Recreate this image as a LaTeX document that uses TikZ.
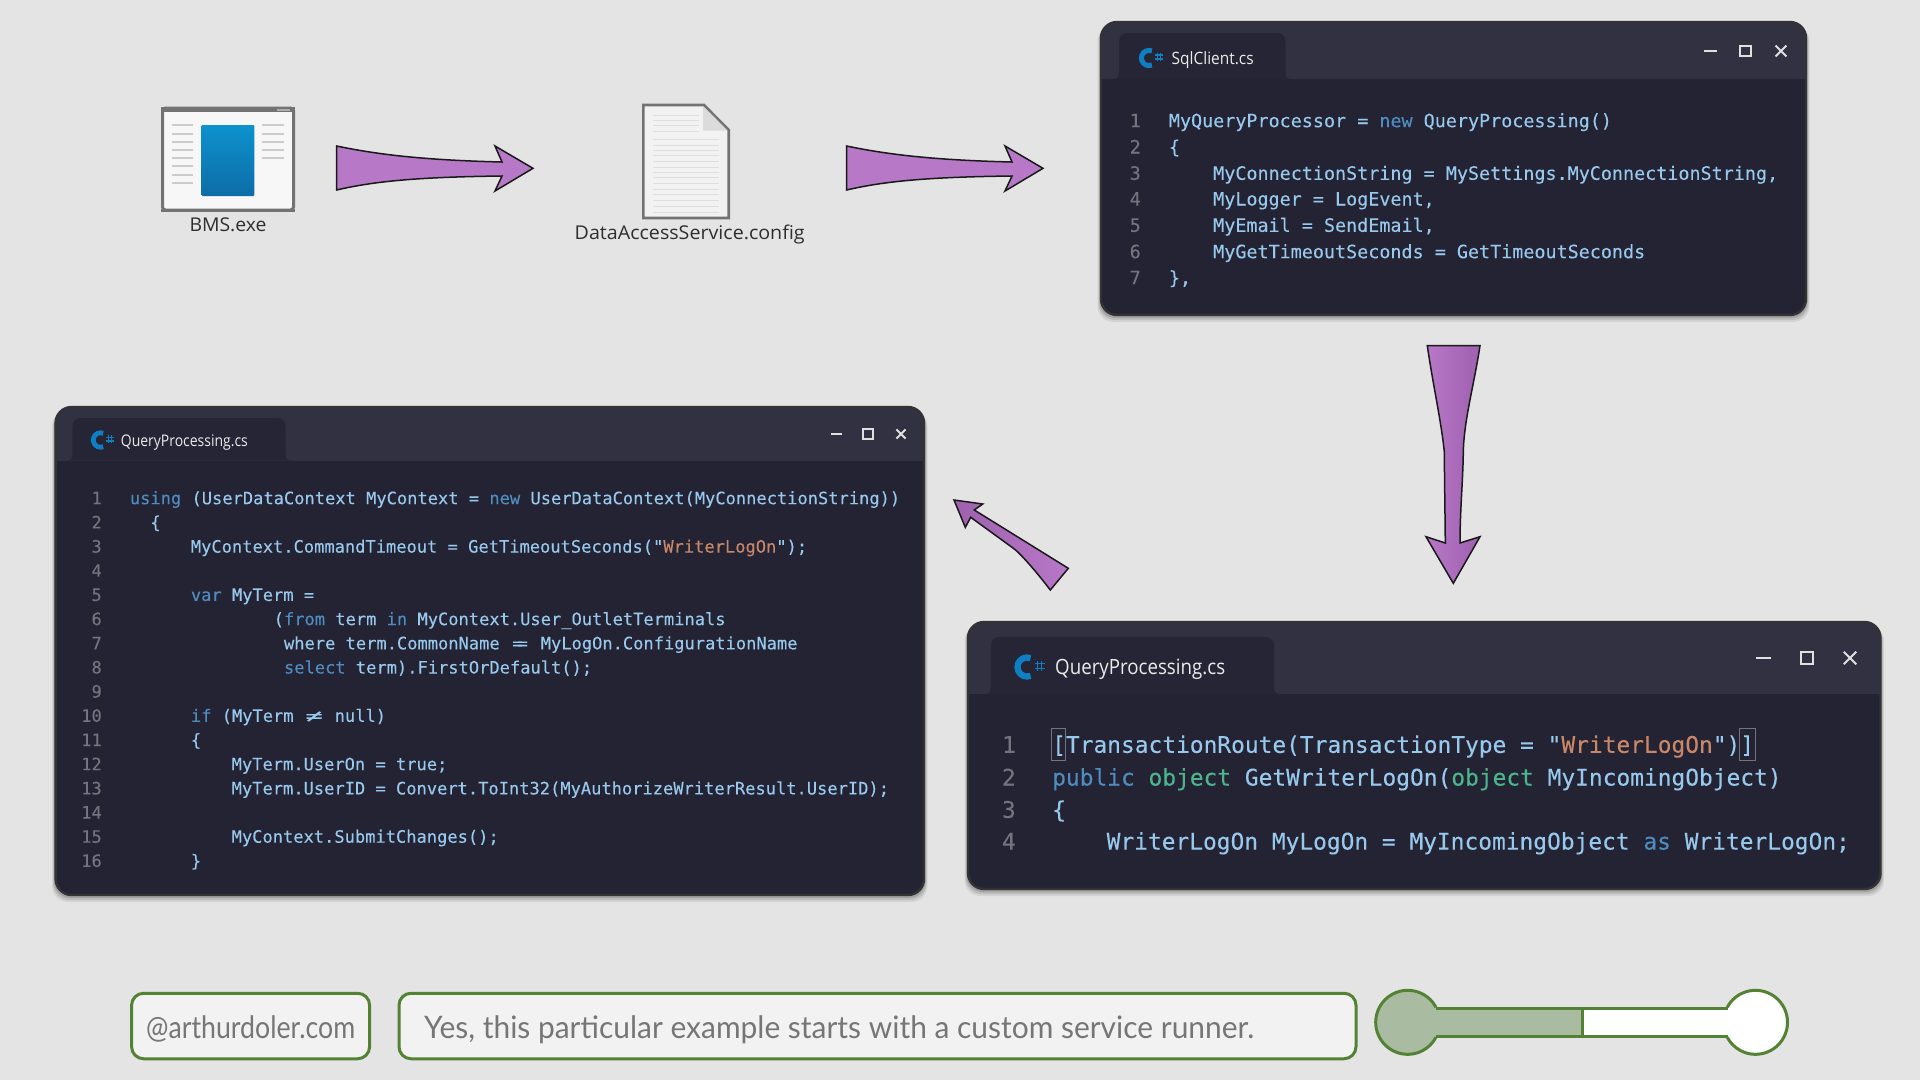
\documentclass[tikz,border=0pt]{standalone}
\usepackage{fontspec}
\usepackage{graphicx}
\newfontfamily\codef[FakeBold=0.12]{DejaVu Sans Mono}
\newfontfamily\uif{Open Sans}
\newfontfamily\gillf{Lato}
\definecolor{bgc}{HTML}{E4E4E4}
\definecolor{bodyc}{HTML}{232333}
\definecolor{barc}{HTML}{323141}
\definecolor{tabc}{HTML}{252535}
\definecolor{codec}{HTML}{98C8EC}
\definecolor{kwc}{HTML}{4F8CC0}
\definecolor{stc}{HTML}{C9876A}
\definecolor{tyc}{HTML}{4CB58E}
\definecolor{numc}{HTML}{74747E}
\definecolor{csc}{HTML}{0F7FC4}
\definecolor{grn}{HTML}{548235}
\definecolor{grey}{HTML}{767676}
\definecolor{sage}{HTML}{A9BBA0}
\definecolor{arrowa}{HTML}{B678C7}
\definecolor{arrowb}{HTML}{A060B0}
\newcommand\kw[1]{\textcolor{kwc}{#1}}
\newcommand\st[1]{\textcolor{stc}{#1}}
\newcommand\ty[1]{\textcolor{tyc}{#1}}
\newcommand\eqeq{\kern.15em=\kern-.3em=\kern.15em}
\newcommand\fitw[2]{\resizebox{#1}{\height}{#2}}
\newcommand\csicon[3]{%
  \begin{scope}[shift={(#1,#2)},scale=#3]
    \draw[csc,line width=#3*5pt] (0,0) ++(68:7.6pt) arc[start angle=68,end angle=292,radius=7.6pt];
    \draw[csc,line width=#3*1.2pt] (8.5,-5) -- (8.5,3) (11.5,-5) -- (11.5,3) (6,-3) -- (14,-3) (6,1) -- (14,1);
  \end{scope}}
\newcommand\wctrl[5]{%
  \draw[ctrl] (#1-#5/2,#4) -- (#1+#5/2,#4);
  \draw[ctrl] (#2-#5/2.4,#4-#5/2.4) rectangle (#2+#5/2.4,#4+#5/2.4);
  \draw[ctrl] (#3-#5/2.4,#4-#5/2.4) -- (#3+#5/2.4,#4+#5/2.4) (#3-#5/2.4,#4+#5/2.4) -- (#3+#5/2.4,#4-#5/2.4);}
% name, x1,y1,x2,y2, bar bottom, tab x1, tab x2, tab top
\newcommand\codewin[9]{%
  \foreach \s/\o in {7/.07,5/.10,3/.14}{
    \fill[black,opacity=\o,rounded corners=16pt] (#2-\s/2,#3+3) rectangle (#4+\s/2,#5+\s);}
  \node[winbody,minimum width=#4pt-#2pt,minimum height=#5pt-#3pt] (#1) at ({(#2+#4)/2},{(#3+#5)/2}) {};
  \begin{scope}
    \clip[rounded corners=16pt] (#1.south west) rectangle (#1.north east);
    \fill[barc] (#2,#3) rectangle (#4,#6);
    \fill[tabc] (#7-6,#6) .. controls (#7,#6) and (#7,#6-4) .. (#7,#6-8) -- (#7,#9+9) .. controls (#7,#9+3) and (#7+3,#9) .. (#7+9,#9) -- (#8-9,#9) .. controls (#8-3,#9) and (#8,#9+3) .. (#8,#9+9) -- (#8,#6-8) .. controls (#8,#6-4) and (#8,#6) .. (#8+6,#6) -- cycle;
  \end{scope}
  \draw[winedge] (#1.south west) rectangle (#1.north east);}
\tikzset{
  x=1pt,y=-1pt,
  winbody/.style={fill=bodyc,rounded corners=16pt,inner sep=0pt,outer sep=0pt},
  winedge/.style={draw=black!80,line width=2.4pt,rounded corners=16pt},
  ctrl/.style={draw=white!88!black,line width=2pt},
  tabt/.style={font=\uif\color{white!92!black},inner sep=0pt,anchor=base west},
  lbl/.style={font=\uif\color{black!82},inner sep=0pt,anchor=base},
  ca/.style={font=\codef\fontsize{18.4}{22}\selectfont\color{codec},inner sep=0pt,anchor=base west,yshift=-6.5pt},
  na/.style={font=\codef\fontsize{18.4}{22}\selectfont\color{numc},inner sep=0pt,anchor=base east,yshift=-6.5pt},
  cb/.style={font=\codef\fontsize{17.06}{20}\selectfont\color{codec},inner sep=0pt,anchor=base west,yshift=-5.9pt},
  nb/.style={font=\codef\fontsize{17.06}{20}\selectfont\color{numc},inner sep=0pt,anchor=base east,yshift=-5.9pt},
  cc/.style={font=\codef\fontsize{22.86}{27}\selectfont\color{codec},inner sep=0pt,anchor=base west,yshift=-7.8pt},
  nc/.style={font=\codef\fontsize{22.86}{27}\selectfont\color{numc},inner sep=0pt,anchor=base east,yshift=-7.8pt},
  flow/.style={draw=black!90,line width=1.5pt,line join=miter},
  flowh/.style={flow,left color=arrowa,middle color=arrowb,right color=arrowa},
  flowv/.style={flow,left color=arrowa,right color=arrowb},
  flowd/.style={flow,shading angle=50,left color=arrowb,right color=arrowa},
  noteb/.style={draw=grn,line width=3pt,fill=white!95!black,rounded corners=12pt,inner sep=0pt},
  notet/.style={font=\gillf\fontsize{31}{36}\selectfont\color{grey},inner sep=0pt,anchor=base west},
}
\begin{document}
\begin{tikzpicture}
\useasboundingbox (0,0) rectangle (1920,1080);
\fill[bgc] (0,0) rectangle (1920,1080);

% BMS.exe icon
\node[draw=black!55,line width=3pt,fill=white!97!black,rounded corners=3pt,inner sep=0pt,minimum width=131pt,minimum height=102pt] (bmsicon) at (228,159) {};
\fill[black!55] (bmsicon.north west) rectangle ([yshift=-5pt]bmsicon.north east);
\fill[black!55] ([yshift=3pt]bmsicon.south west) rectangle (bmsicon.south east);
\fill[black!32] (277,109) rectangle (290,111);
\shade[top color=csc!85!cyan,bottom color=csc!85!black,rounded corners=1pt] (201.7,125) rectangle (254.3,196);
\foreach \yy in {125,133.7,142,150,158,166,175,183}
  \draw[black!20,line width=2pt] (171.7,\yy) -- (193.3,\yy);
\foreach \yy in {125,133.7,142,150,158}
  \draw[black!20,line width=2pt] (262,\yy) -- (284,\yy);
\node[lbl,font=\uif\fontsize{19}{22}\selectfont\color{black!82},anchor=base] (bmslabel) at (228,231.5) {\fitw{77pt}{BMS.exe}};

% config document icon
\node[inner sep=0pt,minimum width=85pt,minimum height=113pt] (docicon) at (686,161.5) {};
\draw[draw=black!55,line width=2.6pt,fill=white!95!black] (643.3,105) -- (704,105) -- (728.7,130) -- (728.7,218) -- (643.3,218) -- cycle;
\foreach \yy in {139,145,150,155,161,167,172,177,183,189,194,200,206,212}
  \draw[black!13,line width=1pt] (652.7,\yy) -- (719,\yy);
\foreach \yy in {115,120,125,131}
  \draw[black!13,line width=1pt] (652.7,\yy) -- (699,\yy);
\fill[black!14] (703,106.5) -- (727.5,130.5) -- (703,130.5) -- cycle;
\node[lbl,font=\uif\fontsize{19}{22}\selectfont\color{black!82},anchor=base] (doclabel) at (689.7,239) {\fitw{230pt}{DataAccessService.config}};

% flow arrows
\draw[flowh] (336.6,146) .. controls (375,154) and (420,160) .. (502,162) -- (495,146) -- (533,168.3) -- (495,191) -- (502,176) .. controls (420,177) and (375,181) .. (336.6,190) -- cycle;
\draw[flowh] (846.6,146) .. controls (885,154) and (930,160) .. (1012,162) -- (1005,146) -- (1043,168.3) -- (1005,191) -- (1012,176) .. controls (930,177) and (885,181) .. (846.6,190) -- cycle;
\draw[flowv] (1427.3,345.7) -- (1480,345.7) .. controls (1474,385) and (1464,420) .. (1463.3,451.7) .. controls (1463,480) and (1460,510) .. (1460,543) -- (1480,536.7) -- (1453.3,583.3) -- (1426,536.7) -- (1445.3,543) .. controls (1445,510) and (1444.5,480) .. (1444.3,451.7) .. controls (1441,420) and (1433,385) .. (1427.3,345.7) -- cycle;
\draw[flowd] (1068.3,568.3) -- (1050.3,590) .. controls (1035,570) and (1020,553) .. (1013,548) -- (970.7,517.3) -- (965.3,527.3) -- (954,500) -- (982.7,504) -- (974.3,510) -- cycle;

% top-right window
\codewin{wina}{1101}{22}{1806}{315}{79}{1119}{1285.5}{33}
\csicon{1149}{58}{1}
\node[tabt,font=\uif\fontsize{17}{20}\selectfont\color{white!92!black}] (winat) at (1171.5,64) {\fitw{82pt}{SqlClient.cs}};
\wctrl{1710.6}{1745.5}{1781}{51}{13}
\node[na] (an1) at (1141,120.7) {1};
\node[na] (an2) at (1141,147) {2};
\node[na] (an3) at (1141,173.3) {3};
\node[na] (an4) at (1141,199) {4};
\node[na] (an5) at (1141,225.3) {5};
\node[na] (an6) at (1141,251.7) {6};
\node[na] (an7) at (1141,277.7) {7};
\node[ca] (ac1) at (1168.7,120.7) {MyQueryProcessor = \kw{new} QueryProcessing()};
\node[ca] (ac2) at (1168.7,147) {\{};
\node[ca] (ac3) at (1213,173.3) {MyConnectionString = MySettings.MyConnectionString,};
\node[ca] (ac4) at (1213,199) {MyLogger = LogEvent,};
\node[ca] (ac5) at (1213,225.3) {MyEmail = SendEmail,};
\node[ca] (ac6) at (1213,251.7) {MyGetTimeoutSeconds = GetTimeoutSeconds};
\node[ca] (ac7) at (1168.7,277.7) {\},};

% left window
\codewin{winb}{55.6}{407}{924}{895}{460.7}{72.4}{285.7}{418}
\csicon{100.5}{440}{.95}
\node[tabt,font=\uif\fontsize{16}{19}\selectfont\color{white!92!black}] (winbt) at (120.7,446.5) {\fitw{127pt}{QueryProcessing.cs}};
\wctrl{836.7}{868}{901}{434}{11}
\node[nb] (bn1) at (102,498.3) {1};
\node[nb] (bn2) at (102,522.5) {2};
\node[nb] (bn3) at (102,546.7) {3};
\node[nb] (bn4) at (102,570.8) {4};
\node[nb] (bn5) at (102,595) {5};
\node[nb] (bn6) at (102,619.2) {6};
\node[nb] (bn7) at (102,643.4) {7};
\node[nb] (bn8) at (102,667.6) {8};
\node[nb] (bn9) at (102,691.7) {9};
\node[nb] (bn10) at (102,715.9) {10};
\node[nb] (bn11) at (102,740.1) {11};
\node[nb] (bn12) at (102,764.3) {12};
\node[nb] (bn13) at (102,788.5) {13};
\node[nb] (bn14) at (102,812.6) {14};
\node[nb] (bn15) at (102,836.8) {15};
\node[nb] (bn16) at (102,861) {16};
\node[cb] (bc1) at (129.7,498.3) {\kw{using} (UserDataContext MyContext = \kw{new} UserDataContext(MyConnectionString))};
\node[cb] (bc2) at (150.2,522.5) {\{};
\node[cb] (bc3) at (190.7,546.7) {MyContext.CommandTimeout = GetTimeoutSeconds("\st{WriterLogOn}");};
\node[cb] (bc5) at (190.7,595) {\kw{var} MyTerm =};
\node[cb] (bc6) at (273.5,619.2) {(\kw{from} term \kw{in} MyContext.User\_OutletTerminals};
\node[cb] (bc7) at (283.8,643.4) {where term.CommonName \eqeq{} MyLogOn.ConfigurationName};
\node[cb] (bc8) at (283.8,667.6) {\kw{select} term).FirstOrDefault();};
\node[cb] (bc10) at (190.7,715.9) {\kw{if} (MyTerm \makebox[20.54pt]{\scalebox{1.7}[1]{≠}} null)};
\node[cb] (bc11) at (190.7,740.1) {\{};
\node[cb] (bc12) at (231.5,764.3) {MyTerm.UserOn = true;};
\node[cb] (bc13) at (231.5,788.5) {MyTerm.UserID = Convert.ToInt32(MyAuthorizeWriterResult.UserID);};
\node[cb] (bc15) at (231.5,836.8) {MyContext.SubmitChanges();};
\node[cb] (bc16) at (190.7,861) {\}};

% bottom-right window
\codewin{winc}{968}{622}{1880.5}{889}{694}{990.8}{1274}{637}
\csicon{1027}{667}{1.25}
\node[tabt,font=\uif\fontsize{21}{25}\selectfont\color{white!92!black}] (winct) at (1055,674.5) {\fitw{170pt}{QueryProcessing.cs}};
\wctrl{1763.7}{1807}{1850}{658}{15}
\draw[numc,line width=1pt] (1051,728) rectangle (1065.6,760.7);
\draw[numc,line width=1pt] (1739,728) rectangle (1755,760.7);
\node[nc] (cn1) at (1016,745) {1};
\node[nc] (cn2) at (1016,777.7) {2};
\node[nc] (cn3) at (1016,810) {3};
\node[nc] (cn4) at (1016,841.7) {4};
\node[cc] (cc1) at (1052,745) {[TransactionRoute(TransactionType = "\st{WriterLogOn}")]};
\node[cc] (cc2) at (1052,777.7) {\kw{public} \ty{object} GetWriterLogOn(\ty{object} MyIncomingObject)};
\node[cc] (cc3) at (1052,810) {\{};
\node[cc] (cc4) at (1106.5,841.7) {WriterLogOn MyLogOn = MyIncomingObject \kw{as} WriterLogOn;};

% footer
\node[noteb,minimum width=238pt,minimum height=65.5pt] (site) at (250.6,1026) {};
\node[noteb,minimum width=957pt,minimum height=65.5pt] (note) at (877.5,1026) {};
\node[notet] (sitet) at (146,1038) {\fitw{209pt}{@arthurdoler.com}};
\node[notet] (notet) at (424,1038.5) {\fitw{830pt}{Yes, this particular example starts with a custom service runner.}};

% progress slider
\coordinate (sl) at (1407.7,1022.3);
\coordinate (sr) at (1755.5,1022.3);
\fill[sage] (sl) circle[radius=32pt];
\fill[sage] (1436,1008.3) rectangle (1582,1036);
\fill[white] (1582,1008.3) rectangle (1728,1036);
\fill[white] (sr) circle[radius=32pt];
\draw[grn,line width=3pt] (1436,1008.3) -- (1728,1008.3) (1436,1036) -- (1728,1036) (1582,1008.3) -- (1582,1036);
\draw[grn,line width=3pt] (sl) ++(28:32pt) arc[start angle=28,end angle=332,radius=32pt];
\draw[grn,line width=3pt] (sr) ++(152:32pt) arc[start angle=152,end angle=-152,radius=32pt];
\end{tikzpicture}
\end{document}
